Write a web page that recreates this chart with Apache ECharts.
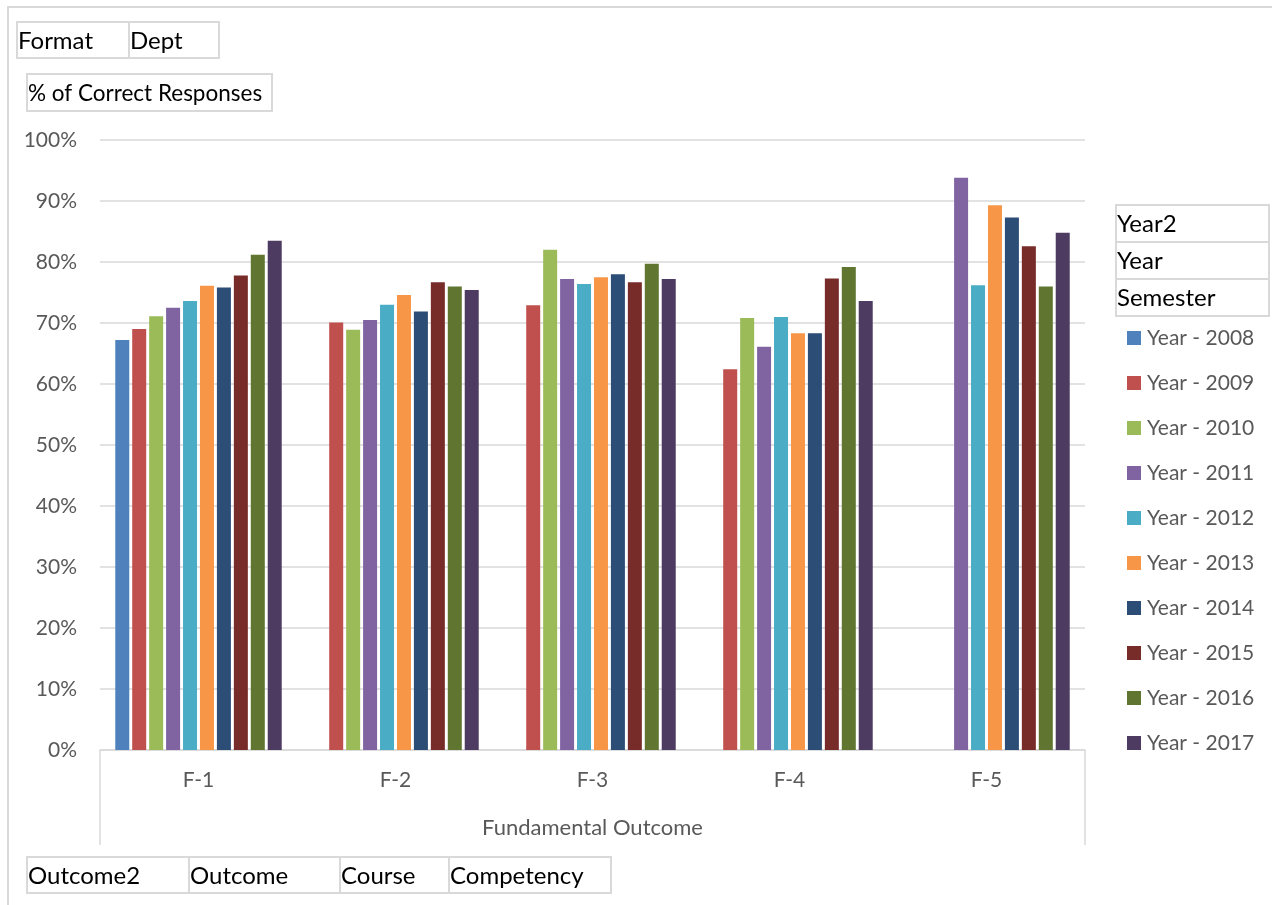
<!DOCTYPE html>
<html><head><meta charset="utf-8">
<script src="https://cdn.jsdelivr.net/npm/echarts@6/dist/echarts.min.js"></script>
<style>html,body{margin:0;padding:0;background:#fff}#c{width:1272px;height:905px}</style>
</head><body><div id="c"></div>
<script>
const categories = ['F-1','F-2','F-3','F-4','F-5'];
const seriesNames = ['Year - 2008','Year - 2009','Year - 2010','Year - 2011','Year - 2012','Year - 2013','Year - 2014','Year - 2015','Year - 2016','Year - 2017'];
const y2008 = [67.2, null, null, null, null];
const y2009 = [69.0, 70.1, 72.9, 62.4, null];
const y2010 = [71.1, 68.9, 82.0, 70.8, null];
const y2011 = [72.5, 70.5, 77.2, 66.1, 93.8];
const y2012 = [73.6, 73.0, 76.4, 71.0, 76.2];
const y2013 = [76.1, 74.6, 77.5, 68.3, 89.3];
const y2014 = [75.8, 71.9, 78.0, 68.3, 87.3];
const y2015 = [77.8, 76.7, 76.7, 77.3, 82.6];
const y2016 = [81.2, 76.0, 79.7, 79.2, 76.0];
const y2017 = [83.5, 75.4, 77.2, 73.6, 84.8];
const yTicks = [0,10,20,30,40,50,60,70,80,90,100];
const colors = ['#4F81BD','#C0504D','#9BBB59','#8064A2','#4BACC6','#F79646','#2C4D75','#772C2A','#5F7530','#4D3B62'];
const allData = [y2008,y2009,y2010,y2011,y2012,y2013,y2014,y2015,y2016,y2017];

const FONT = 'Lato, "Open Sans", sans-serif';
function box(x1,y1,x2,y2,label,fs){
  return [
    {type:'rect',shape:{x:x1,y:y1,width:x2-x1,height:y2-y1},style:{fill:'#fff',stroke:'#D9D9D9',lineWidth:2},z:10},
    {type:'text',x:x1+1,y:(y1+y2)/2+1,style:{text:label,fill:'#000',font:(fs||24)+'px '+FONT,verticalAlign:'middle'},z:11}
  ];
}
const headerBoxes = [
  [17,22,129,58,'Format'],[129,22,219,58,'Dept'],
  [27,74,272,111,'% of Correct Responses',22.5],
  [1116,205,1269,242,'Year2'],[1116,242,1269,279,'Year'],[1116,279,1269,316,'Semester'],
  [27,857,189,893,'Outcome2'],[189,857,340,893,'Outcome'],[340,857,449,893,'Course'],[449,857,611,893,'Competency']
];
let graphics = [
  {type:'polyline',shape:{points:[[8,905],[8,7],[1272,7]]},style:{stroke:'#D9D9D9',lineWidth:2,fill:null},z:1},
  {type:'line',shape:{x1:100,y1:750,x2:100,y2:845},style:{stroke:'#D9D9D9',lineWidth:1.5},z:1},
  {type:'line',shape:{x1:1085,y1:750,x2:1085,y2:845},style:{stroke:'#D9D9D9',lineWidth:1.5},z:1}
];
headerBoxes.forEach(b=>{graphics = graphics.concat(box(...b));});

const chart = echarts.init(document.getElementById('c'));
chart.setOption({
  animation:false,
  color: colors,
  grid:{left:100,right:187,top:140,bottom:155,containLabel:false},
  legend:{
    orient:'vertical', left:1127, top:327, padding:0,
    itemWidth:14, itemHeight:14, itemGap:23,
    icon:'rect',
    textStyle:{color:'#595959',fontSize:21,lineHeight:22,fontFamily:FONT,padding:[0,0,0,1]},
    data: seriesNames
  },
  xAxis:{
    type:'category', data:categories,
    axisLine:{show:true,lineStyle:{color:'#D9D9D9',width:1.5}},
    axisTick:{show:false},
    axisLabel:{color:'#595959',fontSize:21,fontFamily:FONT,margin:20},
    name:'Fundamental Outcome', nameLocation:'middle', nameGap:67,
    nameTextStyle:{color:'#595959',fontSize:22,fontFamily:FONT}
  },
  yAxis:{
    type:'value', min:0, max:100, interval:10,
    axisLine:{show:false}, axisTick:{show:false},
    axisLabel:{color:'#595959',fontSize:21,fontFamily:FONT,margin:23,formatter:v=>yTicks.includes(v)?v+'%':''},
    splitLine:{lineStyle:{color:'#D9D9D9',width:1.5}}
  },
  series: seriesNames.map((n,i)=>({
    name:n, type:'bar', data:allData[i],
    barWidth:14, barGap:'21%', barCategoryGap:'15%',
    itemStyle:{color:colors[i]}
  })),
  graphic: graphics
});
</script></body></html>
